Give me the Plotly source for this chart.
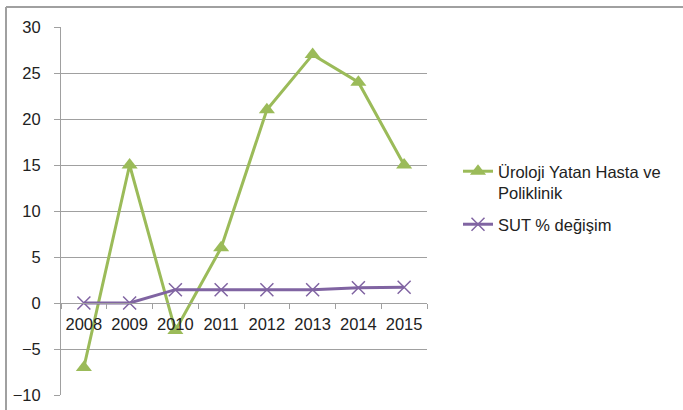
import plotly.graph_objects as go

years = ["2008", "2009", "2010", "2011", "2012", "2013", "2014", "2015"]
uroloji = [-7, 15, -3, 6, 21, 27, 24, 15]
sut = [0, 0, 1.45, 1.45, 1.45, 1.45, 1.65, 1.72]
y_ticks = [-10, -5, 0, 5, 10, 15, 20, 25, 30]

W, H = 683, 410
L, R, T, B = 61, 427, 27, 395
pw, ph = R - L, B - T

GREEN = "#9bbb59"
PURPLE = "#8064a2"
GRID = "#a0a0a0"
FONT = "Liberation Sans"

fig = go.Figure()
fig.add_trace(go.Scatter(
    x=years, y=uroloji, mode="lines+markers",
    name="Üroloji Yatan Hasta ve<br>Poliklinik",
    line=dict(color=GREEN, width=3),
    marker=dict(symbol="triangle-up", size=14, color=GREEN),
    legend="legend",
))
fig.add_trace(go.Scatter(
    x=years, y=sut, mode="lines+markers",
    name="SUT % değişim",
    line=dict(color=PURPLE, width=3),
    marker=dict(symbol="x-thin-open", size=13, color=PURPLE,
                line=dict(color=PURPLE, width=1.5)),
    legend="legend2",
))

def px_x(p):
    return (p - L) / pw

def px_y(p):
    return (B - p) / ph

shapes = [
    dict(type="line", xref="paper", yref="paper",
         x0=px_x(6), x1=px_x(700), y0=px_y(7), y1=px_y(7),
         line=dict(color=GRID, width=2)),
    dict(type="line", xref="paper", yref="paper",
         x0=px_x(6), x1=px_x(6), y0=px_y(7), y1=px_y(420),
         line=dict(color=GRID, width=2)),
]

leg_common = dict(xanchor="left", yanchor="top", valign="top",
                  font=dict(size=16.5, color="#222222"),
                  bgcolor="rgba(0,0,0,0)", itemwidth=30)

fig.update_layout(
    width=W, height=H,
    margin=dict(l=L, r=W - R, t=T, b=H - B, pad=0, autoexpand=False),
    paper_bgcolor="white", plot_bgcolor="white",
    font=dict(family=FONT, size=16, color="#222222"),
    showlegend=True,
    legend=dict(x=px_x(458), y=px_y(154), **leg_common),
    legend2=dict(x=px_x(458), y=px_y(207), **leg_common),
    shapes=shapes,
    xaxis=dict(
        type="category", range=[-0.5, 7.5],
        anchor="free", position=0.25, automargin=False,
        showline=True, linecolor=GRID, linewidth=1,
        ticks="outside", tickson="boundaries", ticklen=5, tickcolor=GRID,
        showgrid=False, zeroline=False,
        ticklabelstandoff=6,
        tickfont=dict(size=16.5, color="#222222"),
    ),
    yaxis=dict(
        range=[-10, 30], tickvals=y_ticks, automargin=False,
        showline=True, linecolor=GRID, linewidth=1,
        ticks="outside", ticklen=6, tickcolor=GRID,
        showgrid=True, gridcolor=GRID, gridwidth=1,
        zeroline=False,
        ticklabelstandoff=10,
        tickfont=dict(size=16.5, color="#222222"),
    ),
)

fig.write_html("out.html")
